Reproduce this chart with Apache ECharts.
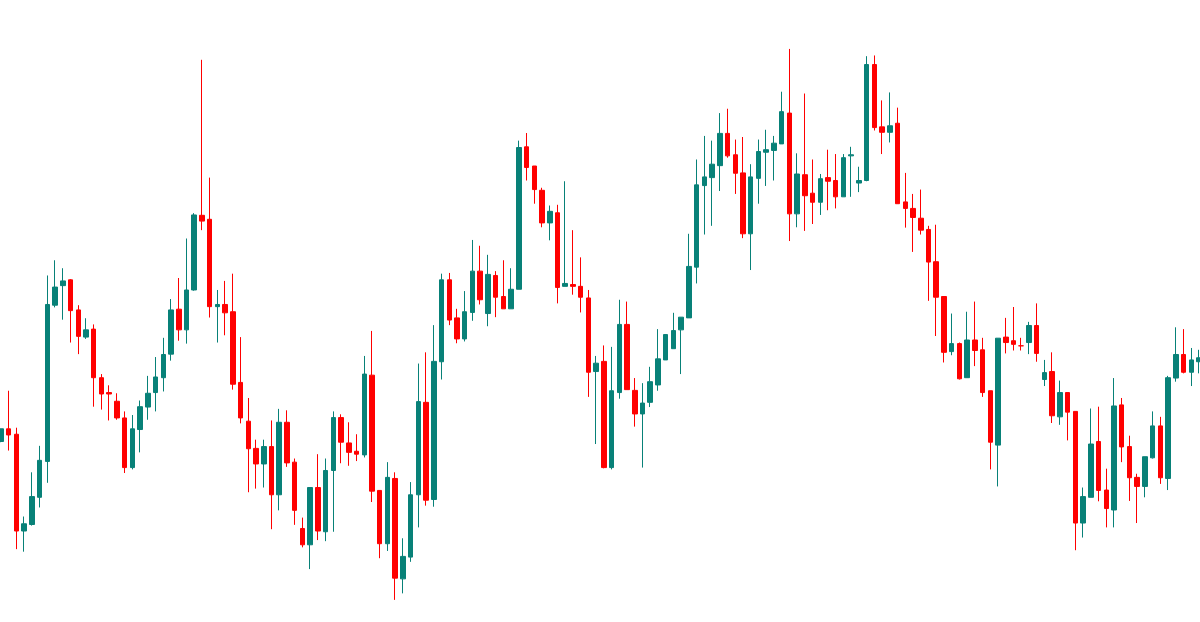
<!DOCTYPE html>
<html lang="en">
<head>
    <meta charset="UTF-8">
    <title>Candles</title>
    <style>
        html, body { margin: 0; padding: 0; background: #fff; }
        #chart { width: 1200px; height: 622px; }
    </style>
</head>
<body>
<div id="chart"></div>
<script src="https://cdn.jsdelivr.net/npm/echarts@6/dist/echarts.min.js"></script>
<script>
    var opens = [692,727,712,445,463,538,637,1068,1122,1138,1055,980,1002,868,827,803,757,620,725,787,827,868,933,1057,1000,1110,1316,1305,1064,1070,
        1050,855,748,673,630,678,545,745,635,452,407,565,443,612,758,688,665,655,875,557,410,590,313,373,545,800,532,912,1138,1033,
        975,1048,1162,1045,1150,1092,1058,1112,1505,1452,1385,1295,1323,1120,1125,1120,1088,885,913,620,827,1015,833,768,800,848,917,948,1000,1033,
        1173,1398,1420,1453,1542,1483,1433,1265,1418,1490,1495,1513,1598,1320,1428,1377,1352,1420,1412,1367,1480,1405,1412,1732,1560,1545,1570,1353,1335,1308,
        1277,1188,1092,940,962,868,972,945,832,682,980,970,956,965,1012,863,885,760,827,775,467,538,692,558,503,793,678,593,568,647,
        735,590,867,932,883,912];
    var closes = [727,710,445,465,540,640,1070,1118,1135,1053,982,1000,868,823,823,757,620,727,788,825,870,932,1055,1000,1110,1317,1300,1064,1070,1047,
        850,757,672,630,678,545,745,633,502,407,565,445,612,758,690,662,657,878,555,410,593,315,375,545,802,530,913,1138,1027,975,
        1050,1162,1083,1153,1090,1058,1112,1503,1448,1387,1295,1327,1117,1128,1120,1090,883,908,620,832,1015,835,768,798,857,920,987,998,1035,1175,
        1400,1422,1457,1542,1480,1432,1265,1422,1492,1497,1515,1602,1320,1430,1370,1352,1417,1410,1367,1475,1483,1412,1732,1558,1545,1563,1348,1335,1310,1275,
        1187,1090,938,962,865,972,943,827,690,977,965,960,956,1012,935,882,763,827,773,467,540,685,557,507,790,677,592,568,650,735,
        592,868,932,883,917,923];
    var lows = [690,667,395,388,460,510,578,1062,1028,965,933,975,788,780,750,752,605,615,662,752,775,830,915,970,962,1108,1275,1034,965,985,
        835,742,552,562,565,450,502,622,462,400,340,420,417,443,632,625,638,648,525,370,390,255,273,360,455,515,512,863,1013,963,
        968,1025,1070,1010,1035,1058,1058,1112,1412,1348,1283,1247,1073,1120,1097,1048,815,685,618,615,810,835,733,620,787,832,917,948,878,1033,
        1128,1263,1287,1383,1475,1375,1253,1165,1348,1397,1412,1513,1245,1283,1273,1292,1317,1330,1335,1367,1367,1380,1410,1550,1485,1517,1348,1282,1215,1263,
        1080,983,910,930,863,868,900,815,615,568,935,943,943,933,912,845,743,738,695,392,427,538,527,455,455,635,528,467,538,645,
        575,558,857,880,845,880];
    var highs = [727,832,730,485,607,680,1150,1192,1170,1140,1068,1032,1015,878,847,825,775,765,805,873,925,978,1085,1143,1252,1322,1745,1420,1110,1135,
        1155,980,812,697,697,750,782,778,645,482,565,657,645,775,767,745,712,928,997,557,635,607,425,580,907,938,1013,1155,1157,1058,
        1107,1248,1232,1207,1162,1192,1170,1522,1543,1452,1392,1343,1345,1410,1275,1200,1110,928,957,953,1083,1078,867,853,898,1002,988,1047,1035,1265,
        1470,1535,1522,1598,1610,1525,1532,1457,1525,1552,1535,1657,1775,1487,1652,1470,1430,1497,1485,1485,1505,1450,1755,1757,1633,1655,1613,1433,1375,1387,
        1287,1290,1092,1045,965,1050,1078,978,832,977,1033,1063,978,1022,1073,917,938,860,827,775,565,783,788,617,867,812,708,603,650,775,
        760,873,1007,1002,950,945];

    var categories = opens.map(function (v, i) { return String(i + 1); });
    var candles = opens.map(function (o, i) {
        return [o, closes[i], lows[i], highs[i]];
    });

    var myChart = echarts.init(document.getElementById('chart'));
    var option = {
        animation: false,
        grid: { left: 1, right: 1, top: 0, bottom: 0 },
        xAxis: {
            type: 'category',
            data: categories,
            boundaryGap: false,
            show: false
        },
        yAxis: {
            type: 'value',
            min: 194,
            max: 1910,
            show: false
        },
        series: [{
            type: 'candlestick',
            data: candles,
            barWidth: 5,
            clip: false,
            itemStyle: {
                color: '#088178',
                color0: '#ff0000',
                borderColor: '#088178',
                borderColor0: '#ff0000',
                borderWidth: 1
            }
        }]
    };
    myChart.setOption(option);
</script>
</body>
</html>
